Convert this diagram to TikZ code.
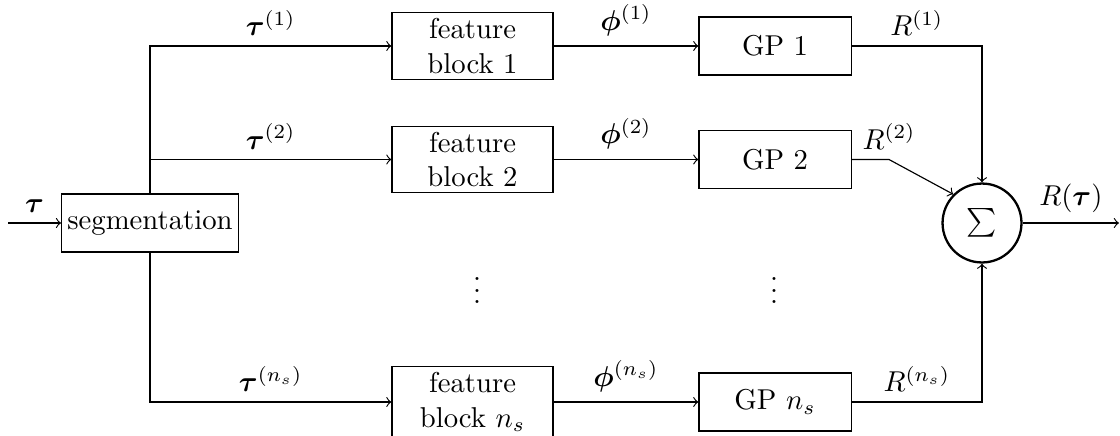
\documentclass[tikz,border=0pt]{standalone}
\usepackage{amsmath,bm}
\usetikzlibrary{arrows}
\begin{document}
\begin{tikzpicture}[x=0.3484pt,y=-0.3484pt,>=to,
  segbox/.style={draw,rectangle,inner sep=2pt,minimum height=20.2pt},
  featbox/.style={draw,rectangle,align=center,inner sep=2pt,minimum width=56.1pt},
  gpbox/.style={draw,rectangle,minimum width=53pt,minimum height=20.2pt},
  sumnode/.style={draw,circle,thick,minimum size=27.5pt,inner sep=0pt},
  conn/.style={->}]
\useasboundingbox (0,0) rectangle (1120,435);

% segmentation stage
\coordinate (in) at (8,223);
\node[segbox] (seg) at (150,223) {segmentation};

% feature blocks
\node[featbox] (fb1) at (472.5,46) {feature\\block 1};
\node[featbox] (fb2) at (472.5,159.5) {feature\\block 2};
\node[featbox] (fbn) at (472.5,402) {feature\\block $n_s$};

% Gaussian process models
\node[gpbox] (gp1) at (775,46) {GP 1};
\node[gpbox] (gp2) at (775,159.5) {GP 2};
\node[gpbox] (gpn) at (775,402) {GP $n_s$};

% omitted rows
\node (d1) at (477,282) {$\vdots$};
\node (d2) at (774,282) {$\vdots$};

% summation
\node[sumnode] (sum) at (982,223) {$\sum$};
\coordinate (k2) at (889,159.5);
\coordinate (t2) at (seg.north |- fb2.west);
\coordinate (out) at (1119,223);

% connectors
\draw[conn] (in) -- node[above] {$\bm{\tau}$} (seg);
\draw[conn] (seg.north) |- node[pos=0.75,above] {$\bm{\tau}^{(1)}$} (fb1.west);
\draw[conn] (t2) -- node[above] {$\bm{\tau}^{(2)}$} (fb2.west);
\draw[conn] (seg.south) |- node[pos=0.75,above] {$\bm{\tau}^{(n_s)}$} (fbn.west);

\draw[conn] (fb1) -- node[above] {$\bm{\phi}^{(1)}$} (gp1);
\draw[conn] (fb2) -- node[above] {$\bm{\phi}^{(2)}$} (gp2);
\draw[conn] (fbn) -- node[above] {$\bm{\phi}^{(n_s)}$} (gpn);

\draw[conn] (gp1.east) -| node[pos=0.25,above] {$R^{(1)}$} (sum.north);
\draw[conn] (gp2.east) -- (k2) node[above] {$R^{(2)}$} -- (sum.north west);
\draw[conn] (gpn.east) -| node[pos=0.25,above] {$R^{(n_s)}$} (sum.south);

\draw[conn] (sum.east) -- node[above] {$R(\bm{\tau})$} (out);
\end{tikzpicture}
\end{document}
